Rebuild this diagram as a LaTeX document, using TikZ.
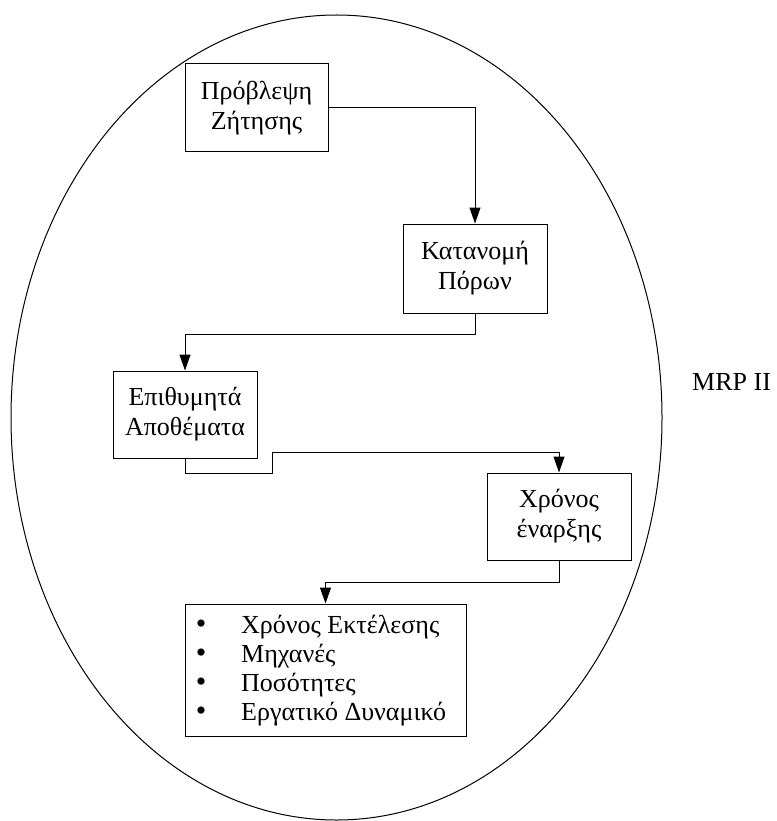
\documentclass[tikz,border=0pt]{standalone}
\usepackage{fontspec}
\setmainfont{Liberation Serif}
\usetikzlibrary{arrows.meta}
\begin{document}
\begin{tikzpicture}[x=1pt,y=-1pt,
  every node/.style={font=\fontsize{26}{30}\selectfont},
  boxnode/.style={draw, line width=1pt, rectangle, inner sep=0pt, align=center},
  conn/.style={draw, line width=1pt, -{Triangle[length=16pt,width=11pt]}},
  bullet/.style={anchor=base, inner sep=0pt, font=\fontsize{30}{30}\selectfont}
]
\useasboundingbox (0,0) rectangle (776,821);
% ellipse
\draw[line width=1pt] (336.5,417.5) ellipse [x radius=325.5, y radius=402.5];
% boxes
\node[boxnode, minimum width=143pt, minimum height=88pt] (b1) at (256.5,108) {Πρόβλεψη\\Ζήτησης};
\node[boxnode, minimum width=144pt, minimum height=89pt] (b2) at (475,268.5) {Κατανομή\\Πόρων};
\node[boxnode, minimum width=144pt, minimum height=87pt] (b3) at (185,414.5) {Επιθυμητά\\Αποθέματα};
\node[boxnode, minimum width=144pt, minimum height=87pt] (b4) at (559,516.5) {Χρόνος\\έναρξης};
\node[boxnode, minimum width=281pt, minimum height=132pt] (b5) at (325.5,670) {};
% list
\node[anchor=base west, inner sep=0pt] (l1) at (241,633) {Χρόνος Εκτέλεσης};
\node[anchor=base west, inner sep=0pt] (l2) at (241,662) {Μηχανές};
\node[anchor=base west, inner sep=0pt] (l3) at (241,691) {Ποσότητες};
\node[anchor=base west, inner sep=0pt] (l4) at (241,720) {Εργατικό Δυναμικό};
\node[bullet] (d1) at (201,633) {•};
\node[bullet] (d2) at (201,662) {•};
\node[bullet] (d3) at (201,691) {•};
\node[bullet] (d4) at (201,720) {•};
% label
\node[anchor=base west, inner sep=0pt] (mrp) at (692,390) {MRP II};
% connectors
\draw[conn] (b1.east) -| (b2.north);
\coordinate (c2a) at (475,334);
\coordinate (c2b) at (185,334);
\draw[conn] (b2.south) -- (c2a) -- (c2b) -- (b3.north);
\coordinate (c3a) at (185,473);
\coordinate (c3b) at (272,473);
\coordinate (c3c) at (272,452);
\coordinate (c3d) at (559,452);
\draw[conn] (b3.south) -- (c3a) -- (c3b) -- (c3c) -- (c3d) -- (b4.north);
\coordinate (c4a) at (559,582);
\coordinate (c4b) at (325.5,582);
\draw[conn] (b4.south) -- (c4a) -- (c4b) -- (b5.north);
\end{tikzpicture}
\end{document}
